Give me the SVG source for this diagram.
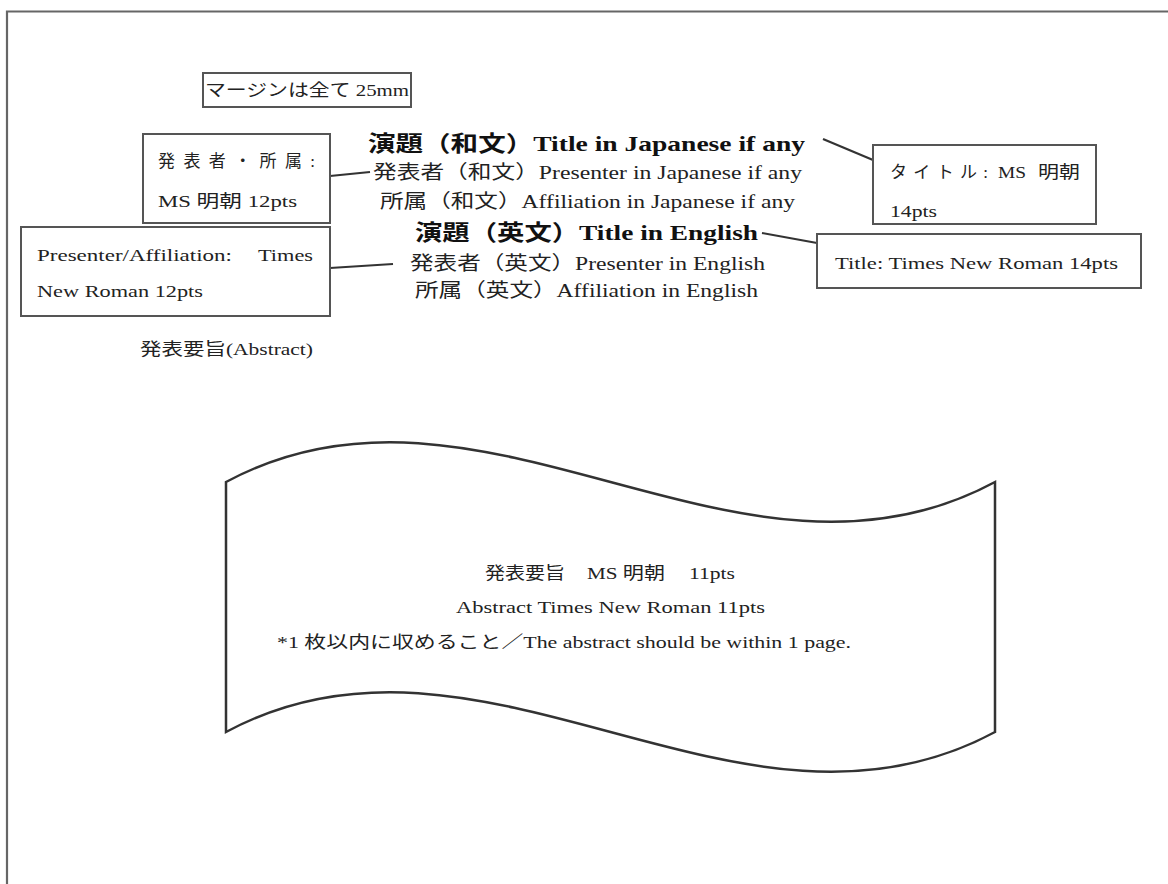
<svg xmlns="http://www.w3.org/2000/svg" width="1168" height="884" viewBox="0 0 1168 884">
<style>
text{font-family:"Liberation Serif","Noto Sans CJK JP",serif;fill:#222;}
.box{fill:#fff;stroke:#555;stroke-width:2;}
.ln{stroke:#333;stroke-width:2.2;fill:none;}
.t{font-size:17px;}
.c{font-size:19px;}
.b{font-size:22px;font-weight:bold;fill:#111;}
.a{font-size:17px;}
</style>
<rect width="1168" height="884" fill="#fff"/>
<g id="page">
<path d="M7,884 V11.5 H1168" fill="none" stroke="#666" stroke-width="2.2"/>
</g>
<g id="connectors">
<line class="ln" x1="330" y1="176" x2="370" y2="172"/>
<line class="ln" x1="330" y1="268" x2="393" y2="264"/>
<line class="ln" x1="823" y1="139" x2="873" y2="160"/>
<line class="ln" x1="762" y1="233" x2="817" y2="243"/>
</g>
<g id="margin-note">
<rect class="box" x="203" y="73" width="208" height="34" stroke-width="2.5"/>
<text class="t" x="205" y="96" textLength="204" lengthAdjust="spacingAndGlyphs">マージンは全て 25mm</text>
</g>
<g id="presenter-jp-box">
<rect class="box" x="143" y="134" width="187" height="89"/>
<text class="t" x="158" y="167" textLength="157" lengthAdjust="spacing">発表者・所属:</text>
<text class="t" x="158" y="207" textLength="139" lengthAdjust="spacingAndGlyphs">MS 明朝 12pts</text>
</g>
<g id="presenter-en-box">
<rect class="box" x="21" y="227" width="309" height="89"/>
<text class="t" x="37" y="261" textLength="195" lengthAdjust="spacingAndGlyphs">Presenter/Affiliation:</text>
<text class="t" x="258" y="261" textLength="55" lengthAdjust="spacingAndGlyphs">Times</text>
<text class="t" x="37" y="297" textLength="166" lengthAdjust="spacingAndGlyphs">New Roman 12pts</text>
</g>
<g id="title-jp-box">
<rect class="box" x="873" y="145" width="223" height="79"/>
<text class="t" x="890" y="178" textLength="98" lengthAdjust="spacing">タイトル:</text>
<text class="t" x="998" y="178" textLength="28" lengthAdjust="spacingAndGlyphs">MS</text>
<text class="t" x="1038" y="178" textLength="42" lengthAdjust="spacingAndGlyphs">明朝</text>
<text class="t" x="890" y="217" textLength="47" lengthAdjust="spacingAndGlyphs">14pts</text>
</g>
<g id="title-en-box">
<rect class="box" x="817" y="234" width="324" height="54"/>
<text class="t" x="835" y="269" textLength="283" lengthAdjust="spacingAndGlyphs">Title: Times New Roman 14pts</text>
</g>
<g id="header-block">
<text class="b" x="368" y="151" textLength="437" lengthAdjust="spacingAndGlyphs">演題（和文）Title in Japanese if any</text>
<text class="c" x="373" y="179" textLength="429" lengthAdjust="spacingAndGlyphs">発表者（和文）Presenter in Japanese if any</text>
<text class="c" x="380" y="208" textLength="415" lengthAdjust="spacingAndGlyphs">所属（和文）Affiliation in Japanese if any</text>
<text class="b" x="415" y="240" textLength="343" lengthAdjust="spacingAndGlyphs">演題（英文）Title in English</text>
<text class="c" x="410" y="270" textLength="355" lengthAdjust="spacingAndGlyphs">発表者（英文）Presenter in English</text>
<text class="c" x="415" y="297" textLength="343" lengthAdjust="spacingAndGlyphs">所属（英文）Affiliation in English</text>
</g>
<g id="abstract-label">
<text class="t" x="140" y="355" textLength="173" lengthAdjust="spacingAndGlyphs">発表要旨(Abstract)</text>
</g>
<g id="abstract-wave">
<path d="M226,482 C482,344 739,620 995,482 L995,732 C739,870 482,594 226,732 Z" fill="#fff" stroke="#333" stroke-width="2.5"/>
<text class="a" x="485" y="579" textLength="80" lengthAdjust="spacingAndGlyphs">発表要旨</text>
<text class="a" x="587" y="579" textLength="78" lengthAdjust="spacingAndGlyphs">MS 明朝</text>
<text class="a" x="689" y="579" textLength="46" lengthAdjust="spacingAndGlyphs">11pts</text>
<text class="a" x="456" y="613" textLength="309" lengthAdjust="spacingAndGlyphs">Abstract Times New Roman 11pts</text>
<text class="a" x="277" y="648" textLength="574" lengthAdjust="spacingAndGlyphs">*1 枚以内に収めること／The abstract should be within 1 page.</text>
</g>
</svg>
